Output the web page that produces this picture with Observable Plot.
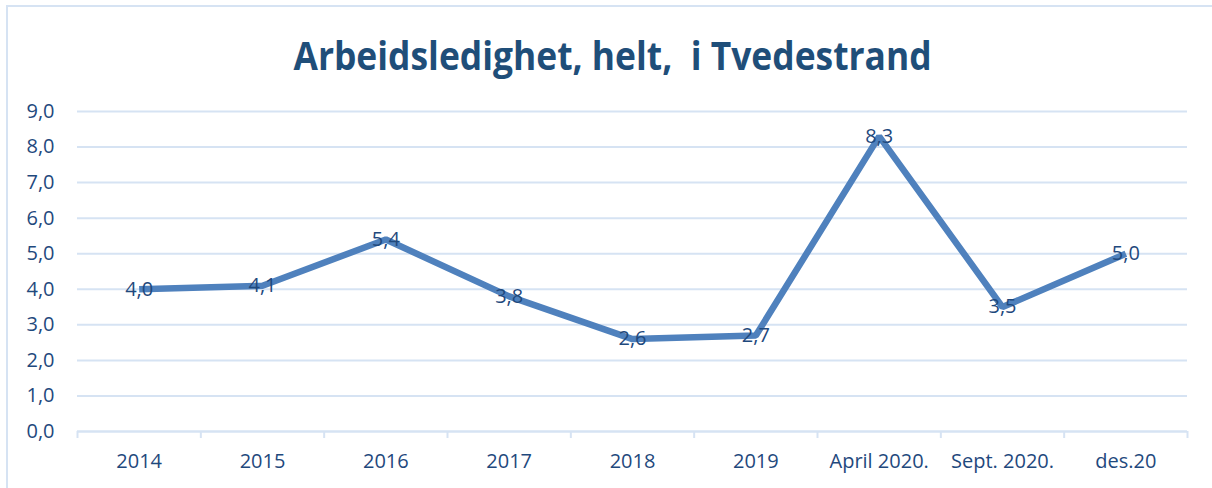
<!DOCTYPE html>
<html>
<head>
<meta charset="utf-8">
<script src="https://cdn.jsdelivr.net/npm/d3@7"></script>
<script src="https://cdn.jsdelivr.net/npm/@observablehq/plot@0.6"></script>
<style>
  html, body { margin: 0; padding: 0; background: #fff; }
  #wrap { position: relative; width: 1212px; height: 488px; overflow: hidden; font-family: "Open Sans", sans-serif; }
  #frame { position: absolute; left: 6px; top: 5px; width: 1300px; height: 600px; border-left: 2px solid #D6E3F3; border-top: 2px solid #D6E3F3; box-sizing: border-box; }
  #title { position: absolute; left: 0; top: 0; width: 1212px; height: 95px; box-sizing: border-box; padding-top: 35px; text-align: center; font-weight: 700; font-size: 40px; color: #1F4E79; line-height: 1; white-space: pre; }
  #title span { display: inline-block; transform: scaleX(0.885); transform-origin: 50% 50%; margin-left: 13px; }
  #chart { position: absolute; left: 0; top: 95px; }
</style>
</head>
<body>
<div id="wrap">
  <div id="frame"></div>
  <div id="title"><span>Arbeidsledighet, helt,  i Tvedestrand</span></div>
  <div id="chart"></div>
</div>
<script>
const categories = ["2014", "2015", "2016", "2017", "2018", "2019", "April 2020.", "Sept. 2020.", "des.20"];
const values = [4.0, 4.1, 5.4, 3.8, 2.6, 2.7, 8.3, 3.5, 5.0];
const yTicks = [0, 1, 2, 3, 4, 5, 6, 7, 8, 9];

const data = categories.map((c, i) => ({i, c, v: values[i]}));
const fmt = v => v.toFixed(1).replace(".", ",");
const idx = categories.map((_, i) => i);
const bounds = categories.map((_, i) => i - 0.5).concat([categories.length - 0.5]);

const textColor = "#1F497D";
const gridColor = "#D6E3F3";

const chart = Plot.plot({
  width: 1212,
  height: 393,
  marginLeft: 77,
  marginRight: 25,
  marginTop: 16,
  marginBottom: 57,
  style: {fontFamily: "'Open Sans', sans-serif", background: "transparent", overflow: "visible"},
  x: {type: "linear", domain: [-0.5, categories.length - 0.5]},
  y: {domain: [0, 9]},
  marks: [
    Plot.gridY(yTicks, {stroke: gridColor, strokeOpacity: 1, strokeWidth: 2}),
    Plot.ruleY([0], {stroke: gridColor, strokeWidth: 2}),
    Plot.axisX(bounds, {tickSize: 7, tickFormat: () => "", stroke: gridColor, strokeWidth: 2, label: null}),
    Plot.axisX(idx, {tickSize: 0, tickPadding: 22, tickFormat: i => categories[i], fill: textColor, fontSize: 20, label: null}),
    Plot.axisY(yTicks, {tickSize: 0, tickPadding: 23, tickFormat: fmt, fill: textColor, fontSize: 20, label: null}),
    Plot.line(data, {x: "i", y: "v", stroke: "#4F81BD", strokeWidth: 6.5, strokeLinejoin: "miter", strokeLinecap: "butt"}),
    Plot.text(data, {x: "i", y: "v", text: d => fmt(d.v), fill: textColor, fontSize: 20, dy: 0})
  ]
});
document.getElementById("chart").appendChild(chart);
</script>
</body>
</html>
